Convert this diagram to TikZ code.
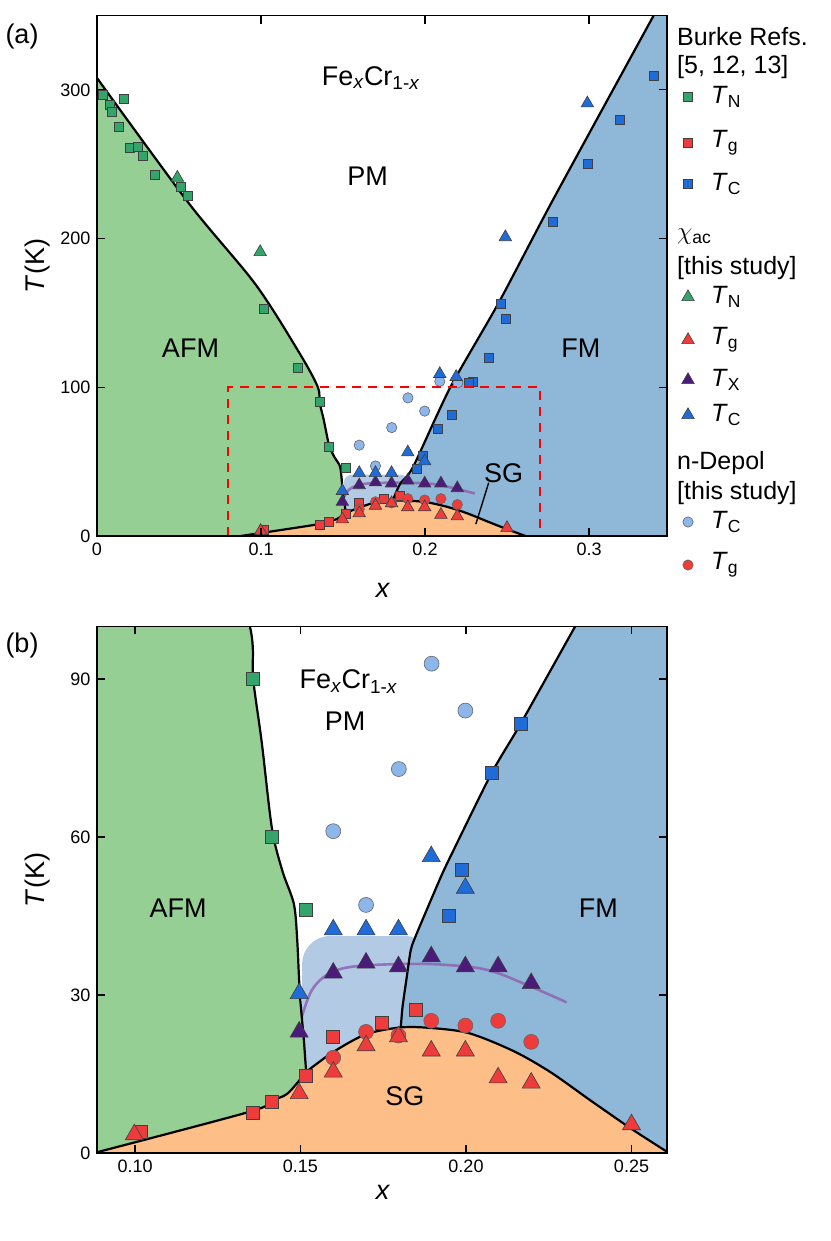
\documentclass[tikz,border=0pt]{standalone}
\usepackage{fontspec}
\setmainfont{Liberation Sans}
\usetikzlibrary{shapes.geometric}
\definecolor{cafm}{HTML}{95CF94}
\definecolor{cfm}{HTML}{8FB8D8}
\definecolor{csg}{HTML}{FDBF87}
\definecolor{cmix}{HTML}{B2CAE4}
\definecolor{mgreen}{HTML}{33A46A}
\definecolor{mred}{HTML}{EE3B3B}
\definecolor{mblue}{HTML}{1F6BD8}
\definecolor{mpurple}{HTML}{4A1B78}
\definecolor{mlight}{HTML}{8DB6EA}
\definecolor{cline}{HTML}{8E64B4}
\newcommand{\Tsub}[1]{\textit{T}\textsubscript{#1}}
\newcommand{\mk}{8pt}
\tikzset{sqm/.style = {rectangle, draw=black!75, line width=0.6pt, inner sep=0pt, minimum size=\mk},
         trm/.style = {regular polygon, regular polygon sides=3, draw=black!75, line width=0.6pt,
                       inner sep=0pt, minimum size=1.6*\mk},
         cim/.style = {circle, draw=black!60, line width=0.6pt, inner sep=0pt, minimum size=1.15*\mk},
         bound/.style = {line width=2.2pt, line join=round},
         ticklab/.style = {font=\fontsize{18}{22}\selectfont},
         biglab/.style = {font=\fontsize{27}{32}\selectfont},
         leglab/.style = {font=\fontsize{25}{30}\selectfont}}
% phase boundaries
\newcommand{\afmline}{--plot[smooth, tension=0.5] coordinates {(0,308) (0.0558,224) (0.0968,169) (0.124,122)
  (0.1347,100) (0.1357,90) (0.1383,77.9) (0.1414,61.5) (0.1446,53.4) (0.148,47.3) (0.149,40.5)
  (0.1498,30.3) (0.151,21.5) (0.1517,15.4)}}
\newcommand{\lowline}{--plot[smooth, tension=0.5] coordinates {(0.1517,15.4) (0.1461,11.3) (0.1411,9.9)
  (0.135,7.9) (0.0876,0)}}
\newcommand{\lowlineup}{--plot[smooth, tension=0.5] coordinates {(0.0876,0) (0.135,7.9) (0.1411,9.9)
  (0.1461,11.3) (0.1517,15.4)}}
\newcommand{\domeline}{--plot[smooth, tension=0.5] coordinates {(0.1517,15.4) (0.1597,19.1) (0.1696,22.5)
  (0.1796,23.8) (0.188,23.8) (0.2006,22.8) (0.2142,19.4) (0.2254,15.4) (0.2378,9.9) (0.2502,4.5) (0.2613,0)}}
\newcommand{\fmlinea}{--plot[smooth, tension=0.4] coordinates {(0.3394,350) (0.278,226) (0.245,157)
  (0.2152,99.5) (0.1927,46.4) (0.1848,35) (0.1803,23.8)}}
\newcommand{\fmlineb}{--plot[smooth, tension=0.4] coordinates {(0.2497,118.5) (0.233,100) (0.2165,81.5)
  (0.2077,72.1) (0.1957,56.8) (0.1926,52.7) (0.1889,47.3) (0.1848,41.2)
  (0.1833,38.5) (0.182,33) (0.1808,27.6) (0.1803,23.8)}}
\newcommand{\domeright}{--plot[smooth, tension=0.5] coordinates {(0.1803,23.8) (0.188,23.8) (0.2006,22.8)
  (0.2142,19.4) (0.2254,15.4) (0.2378,9.9) (0.2502,4.5) (0.2613,0)}}
\newcommand{\txline}{--plot[smooth, tension=0.6] coordinates {(0.1504,25.9) (0.1535,31) (0.1585,34)
  (0.166,35.4) (0.182,35.9) (0.1944,35.7) (0.2068,34.7) (0.2192,31.7) (0.2304,28.6)}}
% regions, lines and data of one panel
\newcommand{\phasediagram}[3]{%
  \fill [cmix, rounded corners=#2] (0.1505,0) -- (0.1505,41.2) -- (0.19,41.2) -- (0.19,0) -- cycle;
  \fill [cfm] (0.4,350) -- (0.3394,350) #3 \domeright -- (0.4,0) -- cycle;
  \fill [csg] (0.0876,0) \lowlineup \domeline -- cycle;
  \fill [cafm] (0,0) -- (0,308) \afmline \lowline -- cycle;
  \draw [cline, line width=2.6pt, opacity=0.85] (0.1504,25.9) \txline;
  \draw [bound] (0,308) \afmline;
  \draw [bound] (0.0876,0) \lowlineup \domeline;
  \draw [bound] (0.3394,350) #3;
  \foreach \x/\y [count=\i] in {0.0034/297, 0.0075/290, 0.0093/285, 0.0164/294, 0.0134/275, 0.0198/261,
      0.0248/262, 0.0278/256, 0.0355/243, 0.0513/235, 0.0551/229, 0.1016/153, 0.1226/113, 0.1357/90.1,
      0.1414/60, 0.1517/46.1}
    \node [sqm, fill=mgreen] (#1sqN\i) at (\x,\y) {};
  \foreach \x/\y [count=\i] in {0.1017/4, 0.1357/7.7, 0.1414/9.7, 0.1517/14.7, 0.1599/22.1, 0.1747/24.7,
      0.1848/27.1}
    \node [sqm, fill=mred] (#1sqG\i) at (\x,\y) {};
  \foreach \x/\y [count=\i] in {0.3394/309.5, 0.319/280, 0.299/250, 0.278/211, 0.246/156, 0.249/146,
      0.239/120, 0.229/104, 0.227/103, 0.2165/81.5, 0.2077/72.1, 0.1988/53.8, 0.1947/45}
    \node [sqm, fill=mblue] (#1sqC\i) at (\x,\y) {};
  \foreach \x/\y [count=\i] in {0.209/104, 0.22/103, 0.1896/92.9, 0.1998/84, 0.1797/72.9, 0.1599/61.1,
      0.1698/47.1}
    \node [cim, fill=mlight] (#1ciC\i) at (\x,\y) {};
  \foreach \x/\y [count=\i] in {0.1599/18.1, 0.1698/23, 0.1796/22.3, 0.1895/25.1, 0.1998/24.2,
      0.2097/25.1, 0.2197/21.1}
    \node [cim, fill=mred] (#1ciG\i) at (\x,\y) {};
  \foreach \x/\y [count=\i] in {0.049/241, 0.0995/191}
    \node [trm, fill=mgreen] (#1trN\i) at (\x,\y) {};
  \foreach \x/\y [count=\i] in {0.0998/3.5, 0.1496/11.3, 0.1599/15.4, 0.1698/20.4, 0.1796/22.1,
      0.1895/19.4, 0.1998/19.4, 0.2097/14.3, 0.2197/13.3, 0.25/5.4}
    \node [trm, fill=mred] (#1trG\i) at (\x,\y) {};
  \foreach \x/\y [count=\i] in {0.1496/23, 0.1599/34.2, 0.1698/36.1, 0.1796/35.4, 0.1895/37.3,
      0.1998/35.4, 0.2097/35.4, 0.2197/32.2}
    \node [trm, fill=mpurple] (#1trX\i) at (\x,\y) {};
  \foreach \x/\y [count=\i] in {0.299/291, 0.249/201, 0.209/109, 0.219/107, 0.1895/56.3, 0.1998/50.3,
      0.1599/42.4, 0.1698/42.4, 0.1796/42.4, 0.1496/30.3}
    \node [trm, fill=mblue] (#1trC\i) at (\x,\y) {};
}

\begin{document}
\begin{tikzpicture}[x=1pt, y=1pt, font=\fontsize{19}{23}\selectfont]
  \useasboundingbox (0,0) rectangle (830,-1241);

  % (a) full range
  \begin{scope}[shift={(97,-536)}, x=1640pt, y=1.487pt]
    \renewcommand{\mk}{9pt}
    \begin{scope}
      \clip (0,0) rectangle (0.3476,350);
      \phasediagram{a}{8pt}{\fmlinea}
    \end{scope}
    \draw [red, line width=2pt, dash pattern=on 9pt off 7pt] (0.08,0) -- (0.08,100) -- (0.27,100) -- (0.27,0);
    \draw [line width=1.6pt] (0,0) rectangle (0.3476,350);
    \foreach \x in {0, 0.1, 0.2, 0.3} {
      \draw [line width=1.2pt] (\x,0) -- ++(0,8pt) (\x,350) -- ++(0,-8pt);
      \node [ticklab, below=3pt] (ax\x) at (\x,0) {\x};
    }
    \foreach \y in {0, 100, 200, 300} {
      \draw [line width=1.2pt] (0,\y) -- ++(8pt,0) (0.3476,\y) -- ++(-8pt,0);
      \node [ticklab, left=3pt] (ay\y) at (0,\y) {\y};
    }
    \node [biglab] (afecr) at (0.167,308) {Fe\textsubscript{\textit{x}}Cr\textsubscript{1-\textit{x}}};
    \node [biglab] (apm) at (0.165,242) {PM};
    \node [biglab] (aafm) at (0.057,126) {AFM};
    \node [biglab] (afm) at (0.295,126) {FM};
    \node [biglab] (asg) at (0.248,42) {SG};
    \coordinate (asgtip) at (0.231,8);
    \draw [line width=1.4pt] (asg.south west) ++(8pt,4pt) -- (asgtip);
  \end{scope}
  \node [biglab] (alabel) at (22,-37) {(a)};
  \node [biglab, rotate=90] (atitle) at (38,-266) {\textit{T}(K)};
  \node [biglab] (axlabel) at (383,-590) {\textit{x}};

  % legend
  \begin{scope}[every node/.style={anchor=west, inner sep=0pt, leglab}]
    \renewcommand{\mk}{9pt}
    \node (lburke) at (677,-37) {Burke Refs.};
    \node (lref) at (677,-67) {[5, 12, 13]};
    \node (lchi) at (677,-237) {$\chi$\textsubscript{ac}};
    \node (lthis) at (677,-268) {[this study]};
    \node (ldep) at (677,-463) {n-Depol};
    \node (lthisb) at (677,-493) {[this study]};
    \foreach \y/\s/\c/\t [count=\i] in {97/sqm/mgreen/N, 143/sqm/mred/g, 184/sqm/mblue/C,
        297/trm/mgreen/N, 340/trm/mred/g, 380/trm/mpurple/X, 415/trm/mblue/C,
        522/cim/mlight/C, 565/cim/mred/g} {
      \node [\s, fill=\c, anchor=center] (lm\i) at (688,-\y) {};
      \node (lt\i) at (711,-\y) {\Tsub{\t}};
    }
  \end{scope}

  % (b) zoom
  \begin{scope}[shift={(-196,-1153)}, x=3310pt, y=5.267pt]
    \renewcommand{\mk}{13pt}
    \begin{scope}
      \clip (0.0885,0) rectangle (0.2607,100);
      \phasediagram{b}{28pt}{\fmlineb}
    \end{scope}
    \draw [line width=1.6pt] (0.0885,0) rectangle (0.2607,100);
    \foreach \x in {0.10, 0.15, 0.20, 0.25} {
      \draw [line width=1.2pt] (\x,0) -- ++(0,8pt) (\x,100) -- ++(0,-8pt);
      \node [ticklab, below=3pt] (bx\x) at (\x,0) {\x};
    }
    \foreach \y in {0, 30, 60, 90} {
      \draw [line width=1.2pt] (0.0885,\y) -- ++(8pt,0) (0.2607,\y) -- ++(-8pt,0);
      \node [ticklab, left=3pt] (by\y) at (0.0885,\y) {\y};
    }
    \node [biglab] (bfecr) at (0.1645,89.5) {Fe\textsubscript{\textit{x}}Cr\textsubscript{1-\textit{x}}};
    \node [biglab] (bpm) at (0.1635,82) {PM};
    \node [biglab] (bafm) at (0.113,46.5) {AFM};
    \node [biglab] (bfm) at (0.240,46.5) {FM};
    \node [biglab] (bsg) at (0.1815,10.7) {SG};
  \end{scope}
  \node [biglab] (blabel) at (22,-646) {(b)};
  \node [biglab, rotate=90] (btitle) at (38,-880) {\textit{T}(K)};
  \node [biglab] (bxlabel) at (383,-1192) {\textit{x}};
\end{tikzpicture}
\end{document}
